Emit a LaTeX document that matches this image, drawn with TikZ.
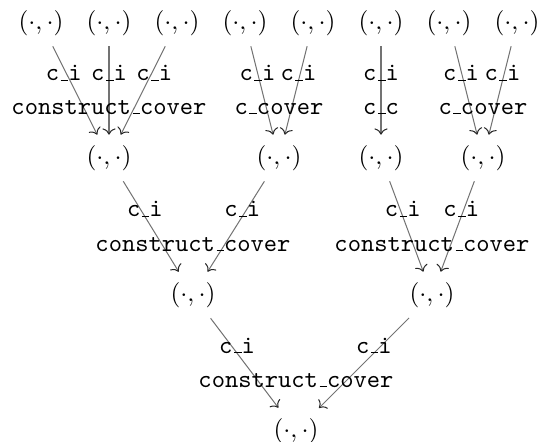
\documentclass[tikz,border=0pt]{standalone}
\usetikzlibrary{calc,arrows.meta}
\newcommand\myus{\leavevmode\kern.06em\vbox{\hrule width.3em}}
\begin{document}
\begin{tikzpicture}[x=0.3953pt,y=-0.3953pt,
  pair/.style={inner sep=0pt, minimum height=18pt},
  lbl/.style={font=\ttfamily, inner sep=0pt, anchor=base},
  conn/.style={-{To[color=black!85]}, draw=black!55, line width=0.4pt},
  elbl/.style={lbl, pos=0.39}]
\useasboundingbox (0,0) rectangle (541,442);
% row 0
\foreach \n/\x in {a/41,b/109,c/177,d/245,e/313,f/381,g/449,h/517}
  \node[pair] (r0\n) at (\x,23) {$(\cdot,\cdot)$};
% row 1
\node[pair] (r1a) at (109,158) {$(\cdot,\cdot)$};
\node[pair] (r1b) at (279,158) {$(\cdot,\cdot)$};
\node[pair] (r1c) at (381,158) {$(\cdot,\cdot)$};
\node[pair] (r1d) at (483,158) {$(\cdot,\cdot)$};
% row 2
\node[pair] (r2a) at (193,295) {$(\cdot,\cdot)$};
\node[pair] (r2b) at (432,295) {$(\cdot,\cdot)$};
% row 3
\node[pair] (r3) at (296,431) {$(\cdot,\cdot)$};

% level 1
\draw[conn] (r0a) -- node[elbl,xshift=-2.5pt]{c\myus i} (r1a);
\draw[conn] (r0b) -- node[elbl]{c\myus i} (r1a);
\draw[conn] (r0c) -- node[elbl,xshift=2.5pt]{c\myus i} (r1a);
\node[lbl] (g1a) at ($(r1a)+(0,-44)$) {construct\myus cover};
\draw[conn] (r0d) -- node[elbl,xshift=-0.8pt]{c\myus i} (r1b);
\draw[conn] (r0e) -- node[elbl]{c\myus i} (r1b);
\node[lbl] (g1b) at ($(r1b)+(0,-44)$) {c\myus cover};
\draw[conn] (r0f) -- node[elbl]{c\myus i} (r1c);
\node[lbl] (g1c) at ($(r1c)+(0,-44)$) {c\myus c};
\draw[conn] (r0g) -- node[elbl,xshift=-1pt]{c\myus i} (r1d);
\draw[conn] (r0h) -- node[elbl]{c\myus i} (r1d);
\node[lbl] (g1d) at ($(r1d)+(0,-44)$) {c\myus cover};
% level 2
\draw[conn] (r1a) -- node[elbl]{c\myus i} (r2a);
\draw[conn] (r1b) -- node[elbl]{c\myus i} (r2a);
\node[lbl] (g2a) at ($(r2a)+(0,-44)$) {construct\myus cover};
\draw[conn] (r1c) -- node[elbl]{c\myus i} (r2b);
\draw[conn] (r1d) -- node[elbl]{c\myus i} (r2b);
\node[lbl] (g2b) at ($(r2b)+(0,-44)$) {construct\myus cover};
% level 3
\draw[conn] (r2a) -- node[elbl]{c\myus i} (r3);
\draw[conn] (r2b) -- node[elbl]{c\myus i} (r3);
\node[lbl] (g3) at ($(r3)+(0,-44)$) {construct\myus cover};
\end{tikzpicture}
\end{document}
